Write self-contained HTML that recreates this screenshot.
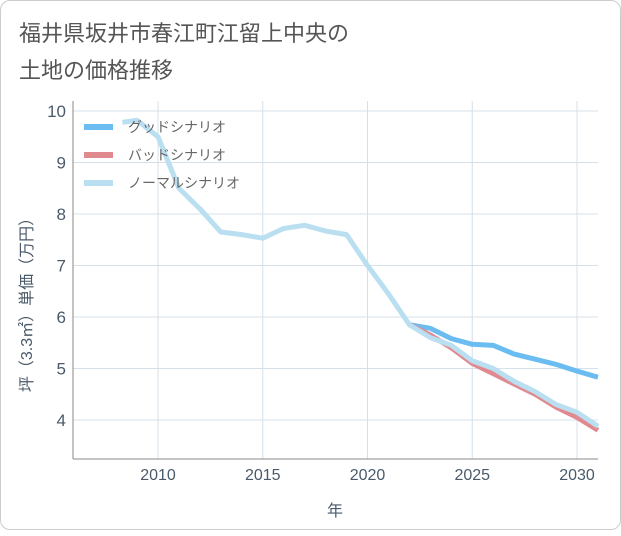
<!DOCTYPE html>
<html><head><meta charset="utf-8"><style>
body{margin:0;background:#fff;font-family:"Liberation Sans","Noto Sans CJK JP",sans-serif}
#card{position:absolute;left:0;top:0;width:619px;height:528px;border:1px solid #ccc;border-radius:10px;background:#fff}
</style></head><body>
<div id="card">
<svg id="chart" width="621" height="530">
<text x="18" y="40" font-size="22" fill="#555">福井県坂井市春江町江留上中央の</text>
<text x="18" y="77" font-size="22" fill="#555">土地の価格推移</text>
<g id="grid"></g><g id="series"></g><g id="legend"></g>
</svg></div>
<script>
const years=[2008.3,2009,2010,2011,2012,2013,2014,2015,2016,2017,2018,2019,2020,2021,2022,2023,2024,2025,2026,2027,2028,2029,2030,2031];
const normal=[9.78,9.82,9.5,8.5,8.1,7.65,7.6,7.53,7.72,7.78,7.67,7.6,7.0,6.45,5.85,5.6,5.45,5.15,5.0,4.75,4.55,4.3,4.15,3.88];
const fyears=[2022,2023,2024,2025,2026,2027,2028,2029,2030,2031];
const good=[5.85,5.78,5.58,5.47,5.45,5.28,5.18,5.08,4.95,4.83];
const bad=[5.85,5.65,5.4,5.1,4.9,4.7,4.5,4.25,4.05,3.8];
const xTicks=[2010,2015,2020,2025,2030];
const yTicks=[4,5,6,7,8,9,10];
const L=72,R=597,T=100,B=458;
const X=v=>157+(v-2010)*20.95, Y=v=>110+(10-v)*51.5;
const NS="http://www.w3.org/2000/svg";
function mk(p,t,a){const e=document.createElementNS(NS,t);for(const k in a)e.setAttribute(k,a[k]);p.appendChild(e);return e;}
const g=document.getElementById('grid');
xTicks.forEach(t=>{mk(g,'line',{x1:X(t),x2:X(t),y1:T,y2:B,stroke:'#d5e0ea'});
const tx=mk(g,'text',{x:X(t),y:479,'font-size':16,fill:'#4a5a6a','text-anchor':'middle'});tx.textContent=t;
});
yTicks.forEach(t=>{mk(g,'line',{x1:L,x2:R,y1:Y(t),y2:Y(t),stroke:'#d5e0ea'});
const tx=mk(g,'text',{x:65,y:Y(t)+6,'font-size':17,fill:'#4a5a6a','text-anchor':'end'});tx.textContent=t;
});
mk(g,'line',{x1:L,x2:L,y1:T,y2:B,stroke:'#888'});mk(g,'line',{x1:L,x2:R,y1:B,y2:B,stroke:'#888'});
const xt=mk(g,'text',{x:334,y:515,'font-size':16,fill:'#4a5a6a','text-anchor':'middle'});xt.textContent='年';

const yt=mk(g,'text',{x:0,y:0,'font-size':16,fill:'#4a5a6a','text-anchor':'middle',transform:'translate(31,300) rotate(-90)'});yt.textContent='坪（3.3㎡）単価（万円）';

const s=document.getElementById('series');
function line(xs,ys,c,n){const pts=xs.map((x,i)=>{let px=Math.min(X(x),R);return px+','+Y(ys[i]);}).join(' ');
const p=mk(s,'polyline',{points:pts,fill:'none',stroke:c,'stroke-width':5,'stroke-linejoin':'round'});
}
line(fyears,good,'#6bbcf0','good-scenario-line');
line(fyears,bad,'#e08a90','bad-scenario-line');
line(years,normal,'#b9dff0','normal-scenario-line');
const lg=document.getElementById('legend');
[['グッドシナリオ','#6bbcf0'],['バッドシナリオ','#e08a90'],['ノーマルシナリオ','#b9dff0']].forEach((d,i)=>{
const y=126+i*28;const e=mk(lg,'g',{});

mk(e,'line',{x1:83,x2:112,y1:y,y2:y,stroke:d[1],'stroke-width':6});
const t=mk(e,'text',{x:127,y:y+5,'font-size':14,fill:'#666'});t.textContent=d[0];});
</script></body></html>
